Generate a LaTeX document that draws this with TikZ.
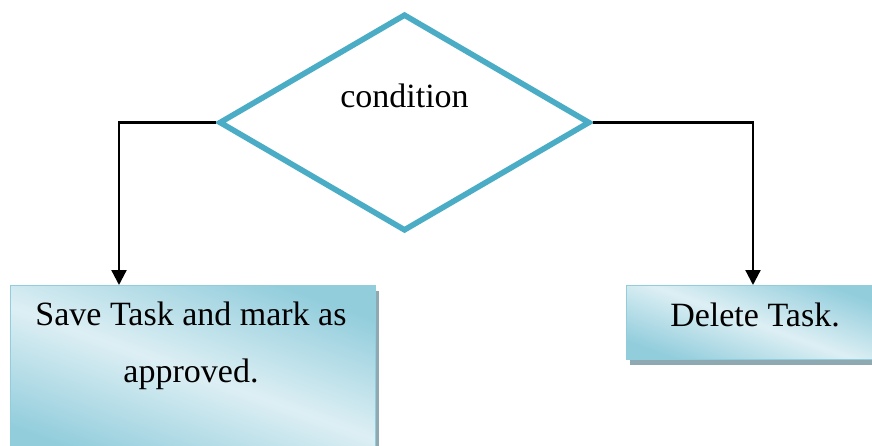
\documentclass[tikz,border=0pt]{standalone}
\usepackage{fontspec}
\setmainfont{Liberation Serif}
\usetikzlibrary{shapes.geometric,arrows.meta,shadows}
\definecolor{accent}{HTML}{4BACC6}
\definecolor{boxdark}{HTML}{92CDDC}
\definecolor{boxlight}{HTML}{DDEFF4}
\definecolor{shade}{HTML}{8FA9B3}
\begin{document}
\begin{tikzpicture}
[x = 0.75pt, y = -0.75pt,
 decision/.style = {diamond, draw = accent, line width = 4.2pt, inner sep = 0pt,
   minimum width = 278.25pt, minimum height = 162.75pt},
 task/.style = {rectangle, draw = boxdark, line width = 0.75pt, inner sep = 0pt,
   top color = boxdark, bottom color = boxdark, middle color = boxlight, shading angle = -20,
   drop shadow = {shadow xshift = 2.25pt, shadow yshift = -3.75pt, fill = shade, opacity = 1}},
 words/.style = {font = \fontsize{25.5}{42.75}\selectfont, align = center, inner sep = 0pt},
 link/.style = {line width = 1.7pt, -{Triangle[width = 11.25pt, length = 11.25pt]}}
 ]
\useasboundingbox (0,0) rectangle (872,446);
\node [decision] (cond) at (404.5,122.5) {};
\node [words, anchor = base] (condtext) at (404.5,107) {condition};
\node [task, anchor = north west, minimum width = 273.75pt, minimum height = 131.25pt] (save) at (10,285) {};
\node [task, anchor = north west, minimum width = 190.5pt, minimum height = 55.5pt] (del) at (626,285) {};
\node [words] (savetext) at (191,346) {Save Task and mark as\\approved.};
\node [words, anchor = base] (deltext) at (755,326) {Delete Task.};
\draw [link] (cond.west) -| ([xshift = 81.75pt]save.north west);
\draw [link] (cond.east) -| ([xshift = 95.25pt]del.north west);
\end{tikzpicture}
\end{document}
